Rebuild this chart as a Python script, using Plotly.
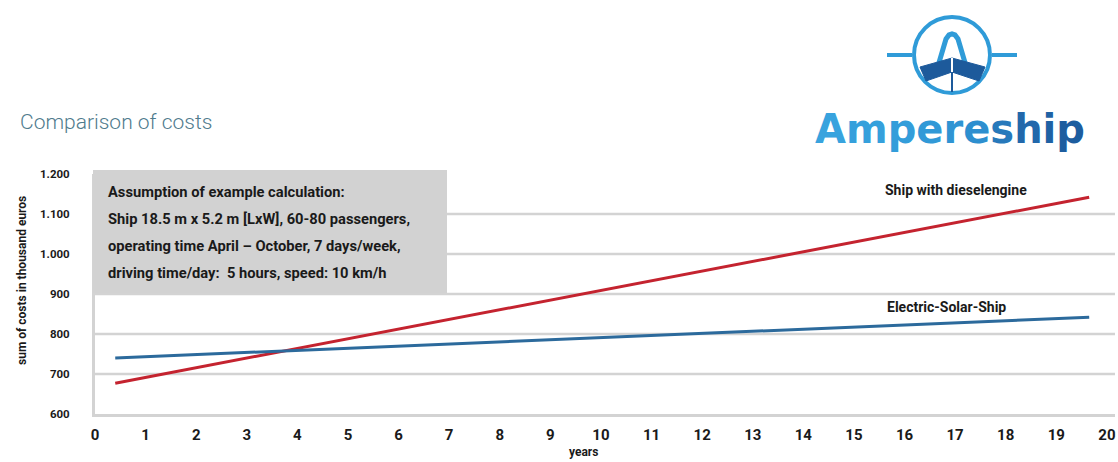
import plotly.graph_objects as go

# ---- data -----------------------------------------------------------------
years = [0.4, 19.65]
diesel_costs = [677, 1142]        # thousand euros, ship with diesel engine
electric_costs = [740, 842]       # thousand euros, electric-solar ship

year_ticks = list(range(0, 21))
cost_ticks = [600, 700, 800, 900, 1000, 1100, 1200]
grid_levels = [700, 800, 900, 1000, 1100]

series_names = ["Ship with dieselengine", "Electric-Solar-Ship"]
assumptions = [
    "Assumption of example calculation:",
    "Ship 18.5 m x 5.2 m [LxW], 60-80 passengers,",
    "operating time April \u2013 October, 7 days/week,",
    "driving time/day:  5 hours, speed: 10 km/h",
]

# ---- page geometry (pixels) -------------------------------------------------
W, H = 1118, 462
PL, PR, PT, PB = 95, 1115, 174, 414   # plot area edges


def fx(px):
    """window x pixel -> paper fraction"""
    return (px - PL) / (PR - PL)


def fy(py):
    """window y pixel -> paper fraction"""
    return (PB - py) / (PB - PT)


BOLD = "Roboto, 'Liberation Sans', Arial, sans-serif"
RED = "#c4232f"
BLUE = "#2c6a9c"
GRID = "#d3d3d3"
INK = "#1a1a1a"

fig = go.Figure()
fig.add_trace(go.Scatter(x=years, y=diesel_costs, mode="lines",
                         line=dict(color=RED, width=3), name=series_names[0]))
fig.add_trace(go.Scatter(x=years, y=electric_costs, mode="lines",
                         line=dict(color=BLUE, width=3), name=series_names[1]))

shapes = []
# horizontal grid lines
for g in grid_levels:
    shapes.append(dict(type="line", xref="paper", yref="y", x0=0, x1=1, y0=g, y1=g,
                       line=dict(color=GRID, width=2.5), layer="below"))

# grey assumption box
shapes.append(dict(type="rect", xref="paper", yref="paper",
                   x0=fx(93), x1=fx(447), y0=fy(293), y1=fy(170),
                   fillcolor="#d2d2d2", line=dict(width=0), layer="above"))

# ---- logo ---------------------------------------------------------------------
LOGO_LIGHT = "#2f9bd8"
LOGO_DARK = "#1d5a9b"
cx, cy, r = 952, 55, 38
shapes.append(dict(type="circle", xref="paper", yref="paper",
                   x0=fx(cx - r), x1=fx(cx + r), y0=fy(cy + r), y1=fy(cy - r),
                   line=dict(color=LOGO_LIGHT, width=4)))
for a, b in [(887, 912), (992, 1017)]:
    shapes.append(dict(type="line", xref="paper", yref="paper",
                       x0=fx(a), x1=fx(b), y0=fy(cy), y1=fy(cy),
                       line=dict(color=LOGO_LIGHT, width=4)))


def path(points, close=False):
    s = "M " + " L ".join(f"{fx(x):.5f},{fy(y):.5f}" for x, y in points)
    return s + (" Z" if close else "")


# arch of the "A"
shapes.append(dict(type="path", xref="paper", yref="paper",
                   path=path([(938, 66), (946, 39), (949, 35), (952, 34),
                              (955, 35), (958, 39), (966, 66)]),
                   line=dict(color=LOGO_LIGHT, width=5)))
# hull
shapes.append(dict(type="path", xref="paper", yref="paper",
                   path=path([(920, 67), (952, 58), (985, 67), (979, 81),
                              (952, 72), (926, 81)], close=True),
                   fillcolor=LOGO_DARK, line=dict(color=LOGO_DARK, width=1)))
shapes.append(dict(type="line", xref="paper", yref="paper",
                   x0=fx(952), x1=fx(952), y0=fy(58), y1=fy(72),
                   line=dict(color="white", width=2)))
shapes.append(dict(type="line", xref="paper", yref="paper",
                   x0=fx(952), x1=fx(952), y0=fy(72), y1=fy(92),
                   line=dict(color=LOGO_DARK, width=2)))

annotations = []


def text(x, y, s, size, color=INK, xanchor="left", weight="bold",
         family=BOLD, angle=0):
    annotations.append(dict(x=fx(x), y=fy(y), xref="paper", yref="paper",
                            text=s, showarrow=False, xanchor=xanchor,
                            yanchor="middle", textangle=angle,
                            font=dict(size=size, color=color, family=family,
                                      weight=weight)))


for i, line in enumerate(assumptions):
    text(106, 192 + 27 * i, line, 14.7)

text(883, 190, series_names[0], 14)
text(885, 307, series_names[1], 14)

text(18, 122, "Comparison of costs", 21, color="#4f7b8d", weight=300,
     family="Roboto, 'Open Sans', sans-serif")
text(22, 281, "sum of costs in thousand euros", 12, xanchor="center", angle=-90)
text(583, 452, "years", 12, xanchor="center")

logo_letters = [("A", "#38a3de"), ("m", "#35a0dc"), ("p", "#339dda"),
                ("e", "#3199d7"), ("r", "#2f94d3"), ("e", "#2d8fcf"),
                ("s", "#2779bb"), ("h", "#2268ab"), ("i", "#1f62a4"),
                ("p", "#1d5d9f")]
logo_html = "".join(f"<span style='color:{c}'>{ch}</span>" for ch, c in logo_letters)
text(950, 129, logo_html, 40, xanchor="center", weight="bold",
     family="'DejaVu Sans', 'Open Sans', sans-serif")

fig.update_layout(
    width=W, height=H,
    margin=dict(l=PL, r=W - PR, t=PT, b=H - PB, pad=0),
    paper_bgcolor="white", plot_bgcolor="white",
    showlegend=False,
    separators=",.",
    shapes=shapes,
    annotations=annotations,
    xaxis=dict(range=[0, 20.16], tickvals=year_ticks, showgrid=False,
               zeroline=False, showline=True, linecolor=GRID, linewidth=3,
               ticks="outside", ticklen=5, tickcolor="rgba(0,0,0,0)",
               tickfont=dict(family=BOLD, size=15, color=INK, weight="bold")),
    yaxis=dict(range=[600, 1200], tickvals=cost_ticks, tickformat=",",
               showgrid=False, zeroline=False, showline=True, linecolor=GRID,
               linewidth=3, ticks="outside", ticklen=20,
               tickcolor="rgba(0,0,0,0)",
               tickfont=dict(family=BOLD, size=11.5, color=INK, weight="bold")),
)

fig.write_html("out.html", config={"displayModeBar": False})
